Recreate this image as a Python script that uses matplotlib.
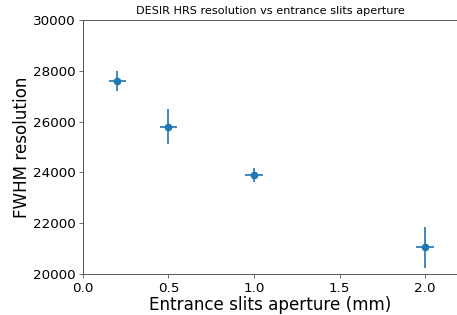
import matplotlib
matplotlib.use("Agg")
import matplotlib.pyplot as plt

# slit aperture (mm) vs FWHM resolution
aperture = [0.2, 0.5, 1.0, 2.0]
aperture_err = [0.05, 0.05, 0.05, 0.05]
resolution = [27600, 25800, 23900, 21050]
resolution_err = [400, 680, 260, 820]

fig = plt.figure(figsize=(4.57, 3.15), dpi=100)
ax = fig.add_axes([0.1816, 0.130, 0.8184, 0.8065])

ax.errorbar(aperture, resolution, xerr=aperture_err, yerr=resolution_err,
            fmt='o', color='#1f77b4', markersize=4.5, elinewidth=1.2)

ax.set_xlim(0, 2.187)
ax.set_ylim(20000, 30000)
ax.set_xticks([0.0, 0.5, 1.0, 1.5, 2.0])
ax.set_yticks([20000, 22000, 24000, 26000, 28000, 30000])
ax.tick_params(labelsize=9.7, width=0.6, length=3, pad=2.5, color='#555555')
for s in ax.spines.values():
    s.set_linewidth(0.7)
    s.set_color('#555555')
ax.spines['right'].set_visible(False)

ax.set_title("DESIR HRS resolution vs entrance slits aperture", fontsize=8.1, pad=4)
ax.set_xlabel("Entrance slits aperture (mm)", fontsize=12.1, labelpad=1)
ax.set_ylabel("FWHM resolution", fontsize=12.1, labelpad=1.5)

fig.savefig("out.png", dpi=100)
